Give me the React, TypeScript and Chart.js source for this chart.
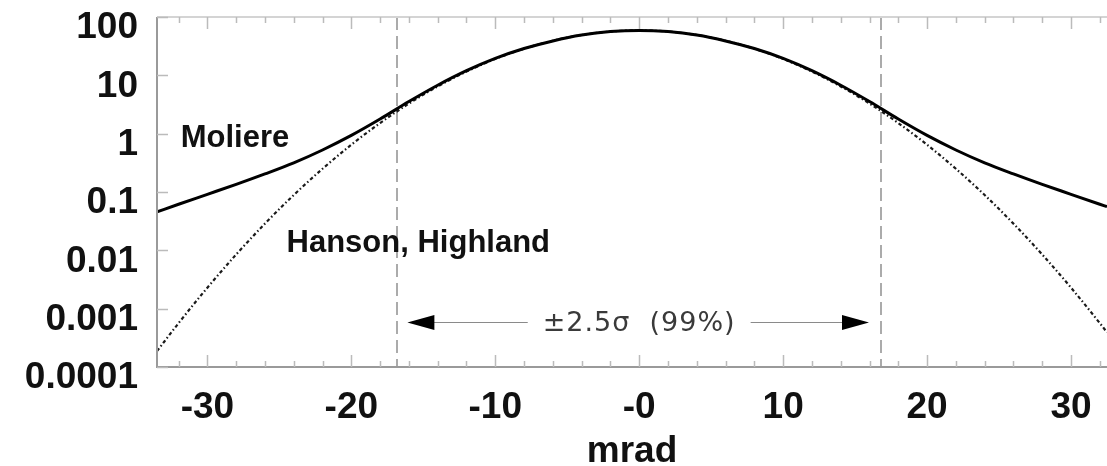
import { useEffect, useRef } from 'react';
import { Chart, registerables } from 'chart.js';

Chart.register(...registerables);

// Projected scattering angle (mrad) at which both distributions are sampled
const MRAD = [
  -33.5, -32, -30, -28, -26, -24, -22, -20, -18, -16, -14, -12, -10, -8, -6, -4, -2,
  0, 2, 4, 6, 8, 10, 12, 14, 16, 18, 20, 22, 24, 26, 28, 30, 32, 32.5,
];

// Moliere distribution (heavy single-scattering tails)
const MOLIERE = [
  0.0457, 0.0617, 0.0912, 0.135, 0.204, 0.316, 0.525, 0.933, 1.78, 3.55, 6.76, 12.0, 19.5, 28.8, 38.9, 49.0, 56.2,
  58.9, 56.2, 49.0, 38.9, 28.8, 19.5, 12.0, 6.76, 3.55, 1.78, 0.933, 0.525, 0.316, 0.204, 0.135, 0.0912, 0.0617, 0.0562,
];

// Gaussian approximation (Hanson / Highland)
const HIGHLAND = [
  0.000187, 0.000565, 0.00229, 0.00848, 0.0287, 0.0887, 0.25, 0.646, 1.52, 3.28, 6.45, 11.6, 19.1, 28.6, 39.2, 49.2, 56.3,
  58.9, 56.3, 49.2, 39.2, 28.6, 19.1, 11.6, 6.45, 3.28, 1.52, 0.646, 0.25, 0.0887, 0.0287, 0.00848, 0.00229, 0.000565, 0.000393,
];

const X_TICKS = [-30, -20, -10, 0, 10, 20, 30];
const X_TICK_LABELS = ['-30', '-20', '-10', '-0', '10', '20', '30'];
const Y_TICKS = [0.0001, 0.001, 0.01, 0.1, 1, 10, 100];
const Y_TICK_LABELS = ['0.0001', '0.001', '0.01', '0.1', '1', '10', '100'];

const SERIES_NAMES = ['Moliere', 'Hanson, Highland'];
// ±2.5 sigma limits (mrad)
const SIGMA_LIMITS = [-16.8, 16.8];
const RANGE_LABEL = '±2.5σ  (99%)';

// Anchors of the in-plot annotations, in data units
const MOLIERE_LABEL_AT = { x: -31.85, y: 0.59 };
const HIGHLAND_LABEL_AT = { x: -24.5, y: 0.0093 };
const RANGE_ARROW_LEVEL = 0.0006;

const FONT = '"Liberation Sans", Arial, Helvetica, sans-serif';

const framePlugin = {
  id: 'frame',
  beforeDatasetsDraw(chart: any) {
    const { ctx, chartArea: a, scales } = chart;
    const x = scales.x;
    ctx.save();
    ctx.strokeStyle = '#ababab';
    ctx.lineWidth = 2;
    ctx.setLineDash([13, 6]);
    for (const v of SIGMA_LIMITS) {
      const px = Math.round(x.getPixelForValue(v));
      ctx.beginPath();
      ctx.moveTo(px, a.top);
      ctx.lineTo(px, a.bottom);
      ctx.stroke();
    }
    ctx.restore();
  },
  afterDatasetsDraw(chart: any) {
    const { ctx, chartArea: a, scales } = chart;
    const x = scales.x;
    const y = scales.y;
    ctx.save();

    // axis frame
    ctx.lineWidth = 2;
    ctx.strokeStyle = '#d4d4d4';
    ctx.beginPath();
    ctx.moveTo(a.left, a.top);
    ctx.lineTo(a.right, a.top);
    ctx.stroke();
    ctx.strokeStyle = '#9a9a9a';
    ctx.beginPath();
    ctx.moveTo(a.left, a.top);
    ctx.lineTo(a.left, a.bottom);
    ctx.lineTo(a.right, a.bottom);
    ctx.stroke();

    // inward tick marks
    ctx.lineWidth = 1.5;
    ctx.strokeStyle = '#bbbbbb';
    for (let v = -32; v <= 32; v += 2) {
      const px = Math.round(x.getPixelForValue(v)) + 0.5;
      if (px < a.left + 2 || px > a.right) continue;
      const len = v % 10 === 0 ? 12 : 6;
      ctx.beginPath();
      ctx.moveTo(px, a.bottom);
      ctx.lineTo(px, a.bottom - len);
      ctx.moveTo(px, a.top);
      ctx.lineTo(px, a.top + len);
      ctx.stroke();
    }
    for (const v of Y_TICKS) {
      const py = Math.round(y.getPixelForValue(v)) + 0.5;
      ctx.beginPath();
      ctx.moveTo(a.left, py);
      ctx.lineTo(a.left + 11, py);
      ctx.stroke();
    }

    // curve names
    ctx.fillStyle = '#111';
    ctx.font = `bold 31px ${FONT}`;
    ctx.textBaseline = 'alphabetic';
    ctx.textAlign = 'left';
    ctx.fillText(SERIES_NAMES[0], x.getPixelForValue(MOLIERE_LABEL_AT.x), y.getPixelForValue(MOLIERE_LABEL_AT.y));
    ctx.fillText(SERIES_NAMES[1], x.getPixelForValue(HIGHLAND_LABEL_AT.x), y.getPixelForValue(HIGHLAND_LABEL_AT.y));

    // ±2.5 sigma range arrow
    const ay = Math.round(y.getPixelForValue(RANGE_ARROW_LEVEL)) + 0.5;
    const cx = x.getPixelForValue(0);
    ctx.font = '27px "DejaVu Sans", sans-serif';
    (ctx as any).letterSpacing = '1px';
    const tw = ctx.measureText(RANGE_LABEL).width;
    ctx.fillStyle = '#3a3a3a';
    ctx.textAlign = 'left';
    ctx.textBaseline = 'middle';
    ctx.fillText(RANGE_LABEL, cx - tw / 2, ay + 1);
    (ctx as any).letterSpacing = '0px';

    const leftTip = x.getPixelForValue(SIGMA_LIMITS[0]) + 10;
    const rightTip = x.getPixelForValue(SIGMA_LIMITS[1]) - 12;
    const gap = 15;
    ctx.strokeStyle = '#8a8a8a';
    ctx.lineWidth = 1;
    ctx.beginPath();
    ctx.moveTo(leftTip + 20, ay);
    ctx.lineTo(cx - tw / 2 - gap, ay);
    ctx.moveTo(cx + tw / 2 + gap, ay);
    ctx.lineTo(rightTip - 20, ay);
    ctx.stroke();

    ctx.fillStyle = '#000';
    const headLen = 27;
    const half = 7.5;
    ctx.beginPath();
    ctx.moveTo(leftTip, ay);
    ctx.lineTo(leftTip + headLen, ay - half);
    ctx.lineTo(leftTip + headLen, ay + half);
    ctx.closePath();
    ctx.fill();
    ctx.beginPath();
    ctx.moveTo(rightTip, ay);
    ctx.lineTo(rightTip - headLen, ay - half);
    ctx.lineTo(rightTip - headLen, ay + half);
    ctx.closePath();
    ctx.fill();

    ctx.restore();
  },
};

export default function App() {
  const canvasRef = useRef<HTMLCanvasElement | null>(null);

  useEffect(() => {
    const canvas = canvasRef.current;
    if (!canvas) return;

    const toPoints = (ys: number[]) => MRAD.map((m, i) => ({ x: m, y: ys[i] }));
    const findLabel = (ticks: number[], labels: string[], v: number) => {
      const i = ticks.findIndex((t) => Math.abs(t - v) <= Math.abs(t) * 1e-6 + 1e-12);
      return i >= 0 ? labels[i] : '';
    };
    const noPadding = (scale: any) => {
      scale.paddingTop = 0;
      scale.paddingBottom = 0;
      scale.paddingLeft = 0;
      scale.paddingRight = 0;
    };

    const chart = new Chart(canvas, {
      type: 'line',
      data: {
        datasets: [
          {
            label: SERIES_NAMES[0],
            data: toPoints(MOLIERE),
            borderColor: '#000',
            borderWidth: 3,
            pointRadius: 0,
            cubicInterpolationMode: 'monotone',
            fill: false,
          },
          {
            label: SERIES_NAMES[1],
            data: toPoints(HIGHLAND),
            borderColor: '#1a1a1a',
            borderWidth: 2.2,
            borderDash: [3.5, 2.5, 1.5, 2.5],
            pointRadius: 0,
            cubicInterpolationMode: 'monotone',
            fill: false,
          },
        ],
      },
      options: {
        animation: false,
        responsive: false,
        events: [],
        layout: { padding: { top: 17, right: 0, left: 0, bottom: 0 } },
        plugins: {
          legend: { display: false },
          tooltip: { enabled: false },
        },
        scales: {
          x: {
            type: 'linear',
            min: -33.5,
            max: 32.5,
            afterBuildTicks: (scale: any) => {
              scale.ticks = X_TICKS.map((v) => ({ value: v }));
            },
            afterFit: (scale: any) => {
              scale.height = 99;
              noPadding(scale);
            },
            grid: { display: true, drawOnChartArea: false, drawTicks: false },
            border: { display: false },
            ticks: {
              padding: 19,
              maxRotation: 0,
              autoSkip: false,
              color: '#111',
              font: { family: FONT, size: 37, weight: 'bold' },
              callback: (v: any) => findLabel(X_TICKS, X_TICK_LABELS, Number(v)),
            },
            title: {
              display: true,
              text: 'mrad',
              color: '#111',
              font: { family: FONT, size: 37, weight: 'bold' },
              padding: { top: 0, bottom: -8 },
            },
          },
          y: {
            type: 'logarithmic',
            min: 0.0001,
            max: 100,
            afterBuildTicks: (scale: any) => {
              scale.ticks = Y_TICKS.map((v) => ({ value: v }));
            },
            afterFit: (scale: any) => {
              scale.width = 157;
              noPadding(scale);
            },
            grid: { display: true, drawOnChartArea: false, drawTicks: false },
            border: { display: false },
            ticks: {
              padding: 19,
              labelOffset: 11,
              autoSkip: false,
              color: '#111',
              font: { family: FONT, size: 37, weight: 'bold' },
              callback: (v: any) => findLabel(Y_TICKS, Y_TICK_LABELS, Number(v)),
            },
          },
        },
      },
      plugins: [framePlugin],
    } as any);

    return () => chart.destroy();
  }, []);

  return (
    <div style={{ position: 'fixed', left: 0, top: 0, width: 1107, height: 466, background: '#fff' }}>
      <canvas ref={canvasRef} width={1107} height={466} style={{ display: 'block' }} />
    </div>
  );
}
